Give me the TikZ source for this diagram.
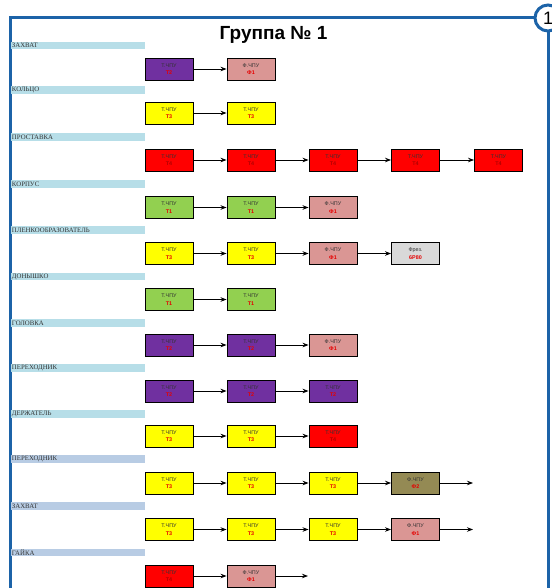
\documentclass[tikz,border=0pt]{standalone}
\usepackage{fontspec}
\setmainfont{Liberation Sans}
\newfontfamily\barfont{Liberation Serif}
\usepackage{xcolor}
\usetikzlibrary{arrows.meta,positioning,calc}
\definecolor{frameblue}{HTML}{1C63A8}
\definecolor{barblue}{HTML}{B7DEE8}
\definecolor{barsteel}{HTML}{B8CCE4}
\definecolor{tone}{HTML}{92D050}
\definecolor{ttwo}{HTML}{7030A0}
\definecolor{tthree}{HTML}{FFFF00}
\definecolor{tfour}{HTML}{FF0000}
\definecolor{fone}{HTML}{DA9694}
\definecolor{ftwo}{HTML}{948A54}
\definecolor{frez}{HTML}{D9D9D9}
\newcommand{\mach}[2]{{\color{black!80}#1}\\{\color{red!90!black}\bfseries #2}}
\newcommand{\tone}{\mach{Т.ЧПУ}{Т1}}
\newcommand{\ttwo}{\mach{Т.ЧПУ}{Т2}}
\newcommand{\tthree}{\mach{Т.ЧПУ}{Т3}}
\newcommand{\tfour}{\mach{Т.ЧПУ}{\color{red!70!black}Т4}}
\newcommand{\fone}{\mach{Ф.ЧПУ}{Ф1}}

\begin{document}
\begin{tikzpicture}[x=1pt,y=-1pt,>={Stealth[length=6pt,width=4.5pt]},
  box/.style={draw,line width=0.9pt,minimum width=48pt,minimum height=22pt,inner sep=0pt,
    align=center,font=\fontsize{5.4}{7.6}\selectfont},
  bar/.style={fill=barblue,minimum height=7.4pt,text width=132pt,inner sep=1pt,align=left,
    font=\barfont\fontsize{6.8}{6.8}\selectfont,text=black!80},
  flow/.style={->,line width=0.8pt},
  frame/.style={frameblue,line width=3pt}]
\useasboundingbox (0,0) rectangle (551,588);
% frame and title
\node[circle,draw=frameblue,line width=3pt,fill=white,minimum size=26pt,inner sep=0pt,
  font=\fontsize{18}{18}\selectfont] (num) at (548,18) {1};
\draw[frame] (10,588) |- (num.west);
\draw[frame] (num.south) -- (num.south |- 0,588);
\node[font=\fontsize{19}{21}\selectfont\bfseries] (title) at (273.5,35) {Группа № 1};
% part labels
\node[bar] (l1) at (78,45.5) {ЗАХВАТ};
\node[bar] (l2) at (78,90) {КОЛЬЦО};
\node[bar] (l3) at (78,137) {ПРОСТАВКА};
\node[bar] (l4) at (78,184) {КОРПУС};
\node[bar] (l5) at (78,230) {ПЛЕНКООБРАЗОВАТЕЛЬ};
\node[bar] (l6) at (78,276.5) {ДОНЫШКО};
\node[bar] (l7) at (78,323) {ГОЛОВКА};
\node[bar] (l8) at (78,368) {ПЕРЕХОДНИК};
\node[bar] (l9) at (78,414) {ДЕРЖАТЕЛЬ};
\node[bar,fill=barsteel] (l10) at (78,459) {ПЕРЕХОДНИК};
\node[bar,fill=barsteel] (l11) at (78,506) {ЗАХВАТ};
\node[bar,fill=barsteel] (l12) at (78,552.5) {ГАЙКА};
% routes
\node[box,fill=ttwo] (r1a) at (169,69) {\ttwo};
\node[box,fill=fone] (r1b) at (251,69) {\fone};
\draw[flow] (r1a) -- (r1b);

\node[box,fill=tthree] (r2a) at (169,113) {\tthree};
\node[box,fill=tthree] (r2b) at (251,113) {\tthree};
\draw[flow] (r2a) -- (r2b);

\node[box,fill=tfour] (r3a) at (169,160) {\tfour};
\node[box,fill=tfour] (r3b) at (251,160) {\tfour};
\node[box,fill=tfour] (r3c) at (333,160) {\tfour};
\node[box,fill=tfour] (r3d) at (415.5,160) {\tfour};
\node[box,fill=tfour] (r3e) at (498.5,160) {\tfour};
\draw[flow] (r3a) -- (r3b);
\draw[flow] (r3b) -- (r3c);
\draw[flow] (r3c) -- (r3d);
\draw[flow] (r3d) -- (r3e);

\node[box,fill=tone] (r4a) at (169,207.5) {\tone};
\node[box,fill=tone] (r4b) at (251,207.5) {\tone};
\node[box,fill=fone] (r4c) at (333,207.5) {\fone};
\draw[flow] (r4a) -- (r4b);
\draw[flow] (r4b) -- (r4c);

\node[box,fill=tthree] (r5a) at (169,253.5) {\tthree};
\node[box,fill=tthree] (r5b) at (251,253.5) {\tthree};
\node[box,fill=fone] (r5c) at (333,253.5) {\fone};
\node[box,fill=frez] (r5d) at (415.5,253.5) {\mach{Фрез.}{6Р80}};
\draw[flow] (r5a) -- (r5b);
\draw[flow] (r5b) -- (r5c);
\draw[flow] (r5c) -- (r5d);

\node[box,fill=tone] (r6a) at (169,299.5) {\tone};
\node[box,fill=tone] (r6b) at (251,299.5) {\tone};
\draw[flow] (r6a) -- (r6b);

\node[box,fill=ttwo] (r7a) at (169,345) {\ttwo};
\node[box,fill=ttwo] (r7b) at (251,345) {\ttwo};
\node[box,fill=fone] (r7c) at (333,345) {\fone};
\draw[flow] (r7a) -- (r7b);
\draw[flow] (r7b) -- (r7c);

\node[box,fill=ttwo] (r8a) at (169,391) {\ttwo};
\node[box,fill=ttwo] (r8b) at (251,391) {\ttwo};
\node[box,fill=ttwo] (r8c) at (333,391) {\ttwo};
\draw[flow] (r8a) -- (r8b);
\draw[flow] (r8b) -- (r8c);

\node[box,fill=tthree] (r9a) at (169,436) {\tthree};
\node[box,fill=tthree] (r9b) at (251,436) {\tthree};
\node[box,fill=tfour] (r9c) at (333,436) {\tfour};
\draw[flow] (r9a) -- (r9b);
\draw[flow] (r9b) -- (r9c);

\node[box,fill=tthree] (r10a) at (169,483) {\tthree};
\node[box,fill=tthree] (r10b) at (251,483) {\tthree};
\node[box,fill=tthree] (r10c) at (333,483) {\tthree};
\node[box,fill=ftwo] (r10d) at (415.5,483) {\mach{Ф.ЧПУ}{Ф2}};
\coordinate (r10e) at (473,483);
\draw[flow] (r10a) -- (r10b);
\draw[flow] (r10b) -- (r10c);
\draw[flow] (r10c) -- (r10d);
\draw[flow] (r10d) -- (r10e);

\node[box,fill=tthree] (r11a) at (169,529.5) {\tthree};
\node[box,fill=tthree] (r11b) at (251,529.5) {\tthree};
\node[box,fill=tthree] (r11c) at (333,529.5) {\tthree};
\node[box,fill=fone] (r11d) at (415.5,529.5) {\fone};
\coordinate (r11e) at (473,529.5);
\draw[flow] (r11a) -- (r11b);
\draw[flow] (r11b) -- (r11c);
\draw[flow] (r11c) -- (r11d);
\draw[flow] (r11d) -- (r11e);

\node[box,fill=tfour] (r12a) at (169,576) {\tfour};
\node[box,fill=fone] (r12b) at (251,576) {\fone};
\coordinate (r12c) at (308,576);
\draw[flow] (r12a) -- (r12b);
\draw[flow] (r12b) -- (r12c);
\end{tikzpicture}
\end{document}
